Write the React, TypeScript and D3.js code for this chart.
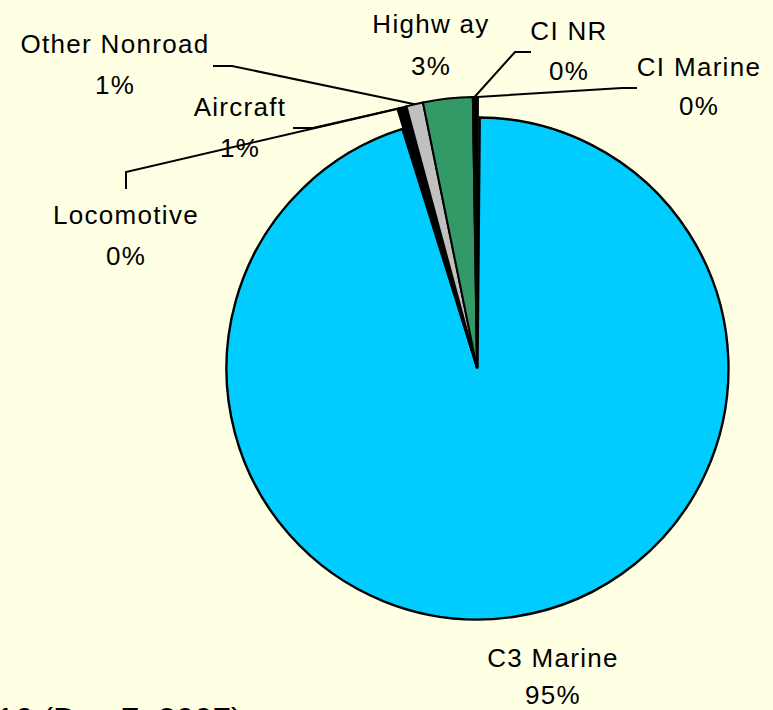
import React from "react";
import * as d3 from "d3";

const categories = ["C3 Marine", "Locomotive", "Aircraft", "Other Nonroad", "Highway", "CI NR", "CI Marine"];
const displayNames = ["C3 Marine", "Locomotive", "Aircraft", "Other Nonroad", "Highw ay", "CI NR", "CI Marine"];
const values = [95.2, 0.1, 0.45, 1.0, 2.95, 0.2, 0.1];
const percentLabels = ["95%", "0%", "1%", "1%", "3%", "0%", "0%"];
const colors = ["#00CCFF", "#FFFFE0", "#000000", "#C0C0C0", "#339966", "#000000", "#000000"];
const footnote = "16 (Dec 7, 2007)";

// layout (label centers / baselines, leader elbows)
const labelLayout = [
  { x: 553, y1: 667, y2: 704, leader: null },
  { x: 126, y1: 224, y2: 265, leader: [[126, 172], [126, 189]] },
  { x: 240, y1: 116, y2: 157, leader: [[313, 128], [293, 128]] },
  { x: 115, y1: 53, y2: 94, leader: [[232, 66], [213, 66]] },
  { x: 431, y1: 33, y2: 75, leader: null },
  { x: 569, y1: 40, y2: 80, leader: [[515, 52], [531, 52]] },
  { x: 699, y1: 76, y2: 115, leader: [[622, 88], [637, 88]] },
];

const W = 773;
const H = 710;
const mainC = [477.5, 368.5];
const mainR = 251;
const smallC = [477, 368];
const smallR = 271;

export default function App() {
  const startA = (0.2 * Math.PI) / 180;
  const pie = d3
    .pie<number>()
    .sort(null)
    .startAngle(startA)
    .endAngle(startA + 2 * Math.PI);
  const arcs = pie(values);

  const mainArc = d3.arc<any>().innerRadius(0).outerRadius(mainR).padRadius(mainR);
  const smallArc = d3.arc<any>().innerRadius(0).outerRadius(smallR);

  const font = "'Liberation Sans', Arial, sans-serif";

  return (
    <svg
      width={W}
      height={H}
      style={{ position: "absolute", left: 0, top: 0, background: "#FFFFE3" }}
    >
      <rect x={0} y={0} width={W} height={H} fill="#FFFFE3" />
      {arcs.map((a, i) => {
        const isMain = i === 0;
        const c = isMain ? mainC : smallC;
        const d = isMain
          ? mainArc({ ...a, padAngle: 0.011 })
          : smallArc({ ...a, padAngle: 0 });
        return (
          <path
            key={categories[i]}
            d={d || ""}
            transform={`translate(${c[0]},${c[1]})`}
            fill={colors[i]}
            stroke="#000"
            strokeWidth={isMain ? 2.4 : 2}
            strokeLinejoin="miter"
          />
        );
      })}
      {arcs.map((a, i) => {
        const L = labelLayout[i];
        if (!L.leader) return null;
        const mid = (a.startAngle + a.endAngle) / 2;
        const px = smallC[0] + smallR * Math.sin(mid);
        const py = smallC[1] - smallR * Math.cos(mid);
        const pts = [[px, py], ...L.leader] as [number, number][];
        return (
          <path
            key={"l" + i}
            d={d3.line()(pts) || ""}
            fill="none"
            stroke="#000"
            strokeWidth={2}
          />
        );
      })}
      {arcs.map((a, i) => {
        const L = labelLayout[i];
        return (
          <g key={"t" + i} fontFamily={font} fontSize={26} fill="#000" textAnchor="middle" letterSpacing={1.3}>
            <text x={L.x} y={L.y1}>{displayNames[i]}</text>
            <text x={L.x} y={L.y2}>{percentLabels[i]}</text>
          </g>
        );
      })}
      <text x={242} y={731} fontFamily={font} fontSize={33} textAnchor="end" fill="#000">
        {footnote}
      </text>
    </svg>
  );
}
